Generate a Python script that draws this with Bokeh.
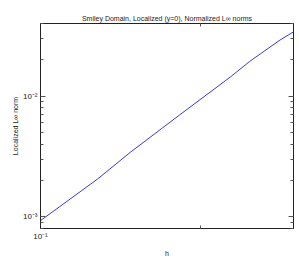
from bokeh.plotting import figure
from bokeh.models import Range1d, FixedTicker, LogAxis, ColumnDataSource
from bokeh.embed import file_html
from bokeh.resources import INLINE

# data
h_vals = [0.100, 0.128, 0.148, 0.183, 0.228, 0.248, 0.283, 0.300]
norm_vals = [9.3e-4, 2.05e-3, 3.45e-3, 6.99e-3, 1.44e-2, 1.94e-2, 2.92e-2, 3.41e-2]

x_major = [0.1]
x_minor = [0.2, 0.3]
x_labels = {0.1: "10\u207b\u00b9"}
y_major = [1e-3, 1e-2]
y_minor = [8e-4, 9e-4, 2e-3, 3e-3, 4e-3, 5e-3, 6e-3, 7e-3, 8e-3, 9e-3, 2e-2, 3e-2, 4e-2]
y_labels = {1e-3: "10\u207b\u00b3", 1e-2: "10\u207b\u00b2"}

FONT = "Liberation Sans"
INK = "#222222"

p = figure(width=299, height=259, x_axis_type="log", y_axis_type="log",
           x_range=Range1d(0.1, 0.3), y_range=Range1d(8e-4, 4e-2),
           output_backend="svg", toolbar_location=None,
           title="Smiley Domain, Localized (y=0), Normalized L\u221e norms",
           min_border_left=40, min_border_right=6, min_border_top=23, min_border_bottom=30)

p.title.text_font = FONT
p.title.text_font_size = "7px"
p.title.text_font_style = "normal"
p.title.text_color = INK
p.title.align = "center"
p.title.standoff = 4

src = ColumnDataSource(dict(h=h_vals, v=norm_vals))
p.line("h", "v", source=src, line_color="#3a3ad0", line_width=1)

p.xgrid.visible = False
p.ygrid.visible = False
p.outline_line_color = INK
p.outline_line_alpha = 1
p.background_fill_color = "white"
p.border_fill_color = "white"

xa = p.xaxis[0]
xa.ticker = FixedTicker(ticks=x_major, minor_ticks=x_minor)
xa.major_label_overrides = x_labels
xa.axis_label = "h"
ya = p.yaxis[0]
ya.ticker = FixedTicker(ticks=y_major, minor_ticks=y_minor)
ya.major_label_overrides = y_labels
ya.axis_label = "Localized L\u221e norm"

for ax in (xa, ya):
    ax.axis_line_color = INK
    ax.major_tick_in = 5
    ax.major_tick_out = 0
    ax.minor_tick_in = 3
    ax.minor_tick_out = 0
    ax.major_tick_line_color = "#555555"
    ax.minor_tick_line_color = "#555555"
    ax.major_label_text_font = FONT
    ax.major_label_text_font_size = "8px"
    ax.major_label_text_color = INK
    ax.major_label_standoff = 3
    ax.axis_label_text_font = FONT
    ax.axis_label_text_font_size = "7px"
    ax.axis_label_text_font_style = "normal"
    ax.axis_label_text_color = INK
xa.axis_label_standoff = 6
ya.axis_label_standoff = 1

# mirrored ticks on top and right (box on)
top = LogAxis(ticker=FixedTicker(ticks=x_major, minor_ticks=x_minor))
right = LogAxis(ticker=FixedTicker(ticks=y_major, minor_ticks=y_minor))
for ax in (top, right):
    ax.axis_line_color = INK
    ax.major_tick_in = 5
    ax.major_tick_out = 0
    ax.minor_tick_in = 3
    ax.minor_tick_out = 0
    ax.major_tick_line_color = "#555555"
    ax.minor_tick_line_color = "#555555"
    ax.major_label_standoff = 0
    ax.major_label_text_font_size = "1px"
    ax.major_label_text_alpha = 0
p.add_layout(top, "above")
p.add_layout(right, "right")

out = open("out.html", "w")
out.write(file_html(p, INLINE))
out.close()
